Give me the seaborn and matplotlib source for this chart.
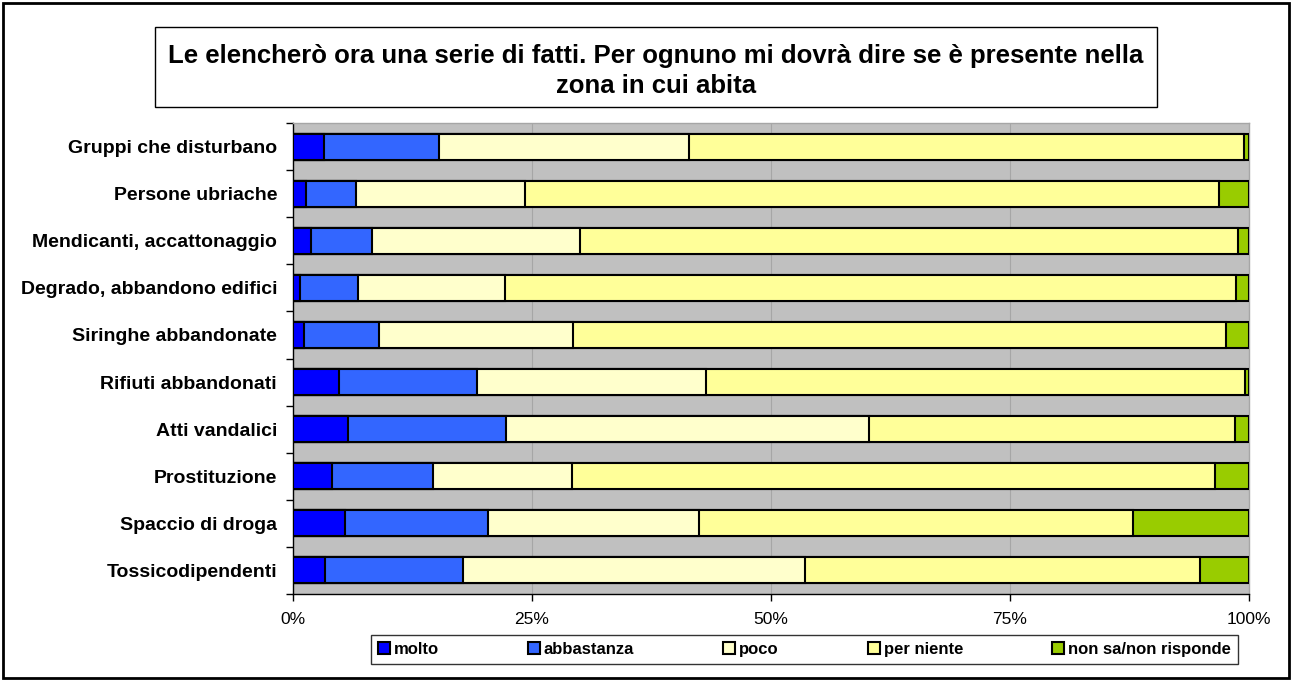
import numpy as np
import pandas as pd
import matplotlib
matplotlib.use("Agg")
from matplotlib import pyplot as plt
from matplotlib.patches import Rectangle
import seaborn as sns

sns.set_style("white")
plt.rcParams["font.family"] = ["Liberation Sans", "DejaVu Sans"]
plt.rcParams["text.color"] = "black"
plt.rcParams["xtick.color"] = "black"
plt.rcParams["ytick.color"] = "black"
plt.rcParams["axes.labelcolor"] = "black"

categories = ["Gruppi che disturbano", "Persone ubriache", "Mendicanti, accattonaggio",
              "Degrado, abbandono edifici", "Siringhe abbandonate", "Rifiuti abbandonati",
              "Atti vandalici", "Prostituzione", "Spaccio di droga", "Tossicodipendenti"]
series = ["molto", "abbastanza", "poco", "per niente", "non sa/non risponde"]
colors = ["#0000FF", "#3366FF", "#FFFFCC", "#FFFF99", "#99CC00"]

molto = [3.2, 1.4, 1.9, 0.7, 1.1, 4.8, 5.8, 4.1, 5.4, 3.3]
abbastanza = [12.1, 5.2, 6.4, 6.1, 7.9, 14.4, 16.5, 10.5, 15.0, 14.5]
poco = [26.1, 17.7, 21.7, 15.4, 20.3, 24.0, 37.9, 14.6, 22.1, 35.8]
per_niente = [58.1, 72.6, 68.9, 76.4, 68.3, 56.4, 38.3, 67.2, 45.4, 41.3]
non_sa = [0.5, 3.1, 1.1, 1.4, 2.4, 0.4, 1.5, 3.6, 12.1, 5.1]

df = pd.DataFrame({"zona": categories, "molto": molto, "abbastanza": abbastanza,
                   "poco": poco, "per niente": per_niente, "non sa/non risponde": non_sa})
vals = df[series].to_numpy()
cum = np.cumsum(vals, axis=1)
cum = cum / cum[:, -1:] * 100

fig = plt.figure(figsize=(12.92, 6.81), dpi=100)
ax = fig.add_axes([293 / 1292, 1 - 594 / 681, 956 / 1292, 471 / 681])
ax.set_facecolor("#C0C0C0")

# stacked bars: draw cumulative totals from the outermost layer inwards
for i in range(len(series) - 1, -1, -1):
    sns.barplot(x=cum[:, i], y=df["zona"], orient="h", color=colors[i], saturation=1,
                edgecolor="black", linewidth=1.5, width=0.55, label=series[i], ax=ax, zorder=3)
handles, labels = ax.get_legend_handles_labels()
if ax.get_legend() is not None:
    ax.get_legend().remove()

ax.set_xlim(0, 100)
ax.set_ylim(len(categories) - 0.5, -0.5)
ax.set_xticks([0, 25, 50, 75, 100])
ax.set_xticklabels(["0%", "25%", "50%", "75%", "100%"], fontsize=12.5)
ax.set_xlabel("")
ax.set_ylabel("")
for x in [25, 50, 75]:
    ax.axvline(x, color="#A6A6A6", lw=0.8, zorder=1)
ax.set_yticks(range(len(categories)))
ax.set_yticklabels(categories, fontsize=14, fontweight="bold")
ax.set_yticks(np.arange(-0.5, len(categories), 1), minor=True)
ax.tick_params(axis="y", which="major", length=0, pad=11.5)
ax.tick_params(axis="y", which="minor", length=5, width=1, direction="out", left=True)
ax.tick_params(axis="x", length=5, width=1, direction="out", bottom=True, pad=8)
for s in ["left", "bottom"]:
    ax.spines[s].set_color("black")
    ax.spines[s].set_linewidth(1)
for s in ["top", "right"]:
    ax.spines[s].set_color("#A6A6A6")
    ax.spines[s].set_linewidth(1)

order = [labels.index(s) for s in series]
leg = fig.legend([handles[k] for k in order], series, loc="lower left",
                 bbox_to_anchor=(363 / 1292, 1 - 672 / 681, 883 / 1292, 35 / 681),
                 mode="expand", ncol=5, frameon=True, fancybox=False, edgecolor="black",
                 handlelength=0.7, handleheight=0.7, handletextpad=0.25,
                 borderpad=0.4, prop={"weight": "bold", "size": 12})
leg.get_frame().set_linewidth(1)

# title box
fig.patches.append(Rectangle((155 / 1292, 1 - 107 / 681), 1002 / 1292, 80 / 681,
                             transform=fig.transFigure, facecolor="white",
                             edgecolor="black", lw=1))
fig.text(656 / 1292, 1 - 71 / 681,
         "Le elencherò ora una serie di fatti. Per ognuno mi dovrà dire se è presente nella\nzona in cui abita",
         ha="center", va="center", fontsize=18.5, fontweight="bold", linespacing=1.3)

# outer border
fig.patches.append(Rectangle((3 / 1292, 3 / 681), 1286 / 1292, 675 / 681,
                             transform=fig.transFigure, fill=False,
                             edgecolor="black", lw=2))

fig.savefig("out.png", dpi=100)
